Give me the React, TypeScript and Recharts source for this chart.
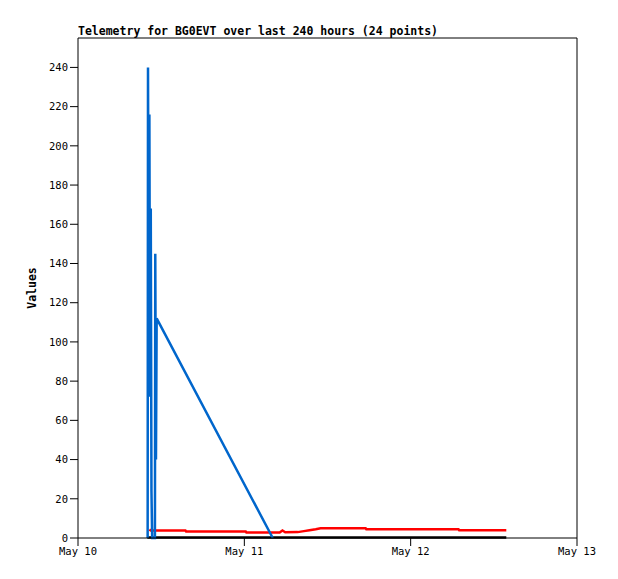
import { LineChart, Line, XAxis, YAxis, ReferenceLine } from "recharts";

// hours since May 10 00:00
const dayLabels = ["May 10", "May 11", "May 12", "May 13"];
const xTicks = [0, 24, 48, 72];
const yTicks = [0, 20, 40, 60, 80, 100, 120, 140, 160, 180, 200, 220, 240];

const blueHours = [10.05, 10.1, 10.2, 10.3, 10.4, 10.5, 10.6, 10.7, 11.1, 11.15, 11.25, 11.35, 28.1];
const blueValues = [0, 240, 121, 216, 72, 168, 24, 0, 0, 145, 40, 112, 0];

const redHours = [10.3, 10.5, 15.5, 15.6, 24.2, 24.3, 29.1, 29.5, 29.9, 31.7, 32.6, 33.4, 34.3, 35.0, 41.5, 41.6, 54.9, 55.0, 61.8];
const redValues = [4.3, 3.8, 3.8, 3.3, 3.3, 2.8, 2.8, 3.8, 2.9, 3.0, 3.5, 4.0, 4.5, 5.0, 5.0, 4.5, 4.5, 4.0, 4.0];

const blackHours = [10.0, 61.8];
const blackValues = [0.3, 0.3];

const toSeries = (hours: number[], values: number[]) => hours.map((t, i) => ({ t, v: values[i] }));

const blueData = toSeries(blueHours, blueValues);
const redData = toSeries(redHours, redValues);
const blackData = toSeries(blackHours, blackValues);

const tickFont = { fill: "#000", fontSize: 10.5, fontFamily: "DejaVu Sans Mono" };

export default function App() {
  return (
    <div style={{ position: "absolute", left: 0, top: 0, width: 618, height: 579, background: "#fff" }}>
      <div
        style={{
          position: "absolute",
          left: 78,
          top: 24,
          fontFamily: "DejaVu Sans Mono",
          fontWeight: "bold",
          fontSize: 11.5,
          whiteSpace: "nowrap",
        }}
      >
        Telemetry for BG0EVT over last 240 hours (24 points)
      </div>
      <LineChart width={618} height={579} margin={{ top: 38, right: 41, left: 18, bottom: 11 }}>
        <XAxis
          dataKey="t"
          type="number"
          domain={[0, 72]}
          ticks={xTicks}
          tickFormatter={(v: number) => dayLabels[xTicks.indexOf(v)]}
          tick={tickFont}
          tickSize={8}
          stroke="#000"
          height={30}
          allowDuplicatedCategory={false}
        />
        <YAxis
          type="number"
          domain={[0, 255]}
          ticks={yTicks}
          tick={tickFont}
          tickSize={8}
          stroke="#000"
          width={60}
          interval={0}
        />
        <ReferenceLine y={255} stroke="#000" />
        <ReferenceLine x={72} stroke="#000" />
        <Line data={redData} dataKey="v" stroke="#ff0000" strokeWidth={2.5} dot={false} isAnimationActive={false} />
        <Line data={blackData} dataKey="v" stroke="#000" strokeWidth={2.5} dot={false} isAnimationActive={false} />
        <Line data={blueData} dataKey="v" stroke="#0066cc" strokeWidth={2.5} dot={false} isAnimationActive={false} />
      </LineChart>
      <div
        style={{
          position: "absolute",
          left: 32,
          top: 288,
          transform: "translate(-50%, -50%) rotate(-90deg)",
          fontFamily: "DejaVu Sans Mono",
          fontWeight: "bold",
          fontSize: 11.5,
          whiteSpace: "nowrap",
        }}
      >
        Values
      </div>
    </div>
  );
}
